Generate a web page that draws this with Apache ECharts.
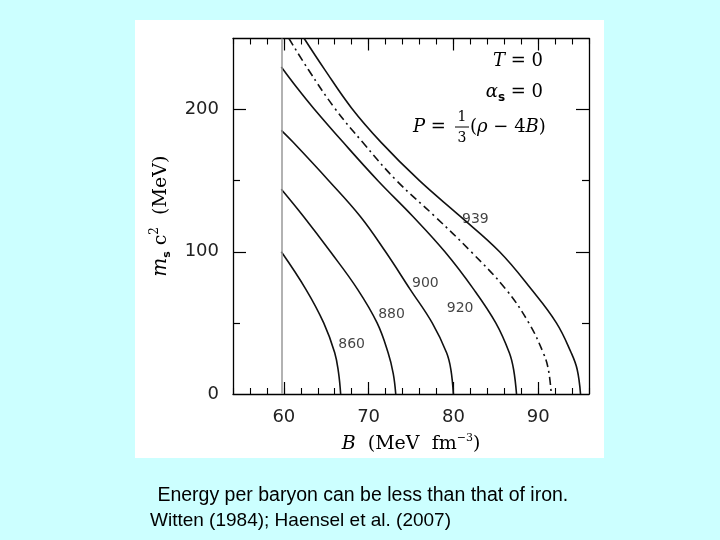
<!DOCTYPE html>
<html><head><meta charset="utf-8">
<script src="https://cdn.jsdelivr.net/npm/echarts@6/dist/echarts.min.js"></script>
<style>
html,body{margin:0;padding:0;background:#ccffff;}
#panel{position:absolute;left:135px;top:20px;width:469px;height:438px;background:#fff;}
#chart{position:absolute;left:0;top:0;width:720px;height:540px;}
</style></head><body>
<div id="panel"></div><div id="chart"></div>
<script>
// ---- data ----
const xRange = [54, 96];
const yRange = [0, 250];
const xTickLabels = [60, 70, 80, 90];
const yTickLabels = [0, 100, 200];
const yMajorTicks = [100, 200];
const yMinorTicks = [50, 150];
const boundaryB = 59.7;

const B_860 = [59.7, 62.6, 64.7, 66.0, 66.45, 66.7];
const ms_860 = [100, 73.6, 50, 29, 15, 0];
const B_880 = [59.7, 62.3, 65.5, 68.7, 71.0, 72.3, 72.9, 73.2];
const ms_880 = [144, 125, 100, 73.6, 50, 29, 14.5, 0];
const B_900 = [59.7, 61.1, 65.3, 69.0, 72.0, 74.9, 77.5, 79.2, 79.7, 80.0];
const ms_900 = [185.4, 177, 150, 125, 100, 73.6, 50, 29, 17.4, 0];
const B_920 = [59.7, 61.6, 63.5, 67.0, 71.1, 75.2, 79.0, 82.4, 85.0, 86.6, 87.1, 87.45];
const ms_920 = [230, 215, 201, 177, 150, 125, 100, 73.6, 50, 29, 17.4, 0];
const B_930 = [60.6, 62.9, 66.0, 69.3, 73.3, 77.8, 82.1, 86.2, 88.9, 90.6, 91.2, 91.55];
const ms_930 = [250, 228, 201, 177, 150, 125, 100, 73.6, 50, 29, 17.4, 0];
const B_939 = [62.4, 64.8, 68.0, 71.5, 76.0, 80.75, 85.45, 89.2, 92.15, 93.9, 94.6, 95.0];
const ms_939 = [250, 228.3, 201, 176.8, 150, 125.2, 100, 73.6, 50, 29, 17.4, 0];

const curveNames = ['860', '880', '900', '920', '939'];
const curveLabelB = [68.0, 72.7, 76.7, 80.8, 82.6];
const curveLabelMs = [34.7, 56.3, 78.1, 60.3, 122.9];

// ---- build ----
const zip = (a, b) => a.map((v, i) => [v, b[i]]);
const curves = [
  {name: '860', d: zip(B_860, ms_860), dash: false},
  {name: '880', d: zip(B_880, ms_880), dash: false},
  {name: '900', d: zip(B_900, ms_900), dash: false},
  {name: '920', d: zip(B_920, ms_920), dash: false},
  {name: '930', d: zip(B_930, ms_930), dash: true},
  {name: '939', d: zip(B_939, ms_939), dash: false}
];

const tickFont = {fontFamily: 'DejaVu Sans', fontSize: 18, color: '#222'};
const serif = 'DejaVu Serif';

function xAx(pos, major, withLabels) {
  const a = {
    type: 'value', min: xRange[0], max: xRange[1], position: pos,
    splitLine: {show: false},
    axisLine: {show: !major, onZero: false, lineStyle: {color: '#000', width: 1.3}},
    axisLabel: {show: false}
  };
  if (major) {
    a.axisTick = {show: true, inside: true, length: 12, customValues: xTickLabels, lineStyle: {color: '#000', width: 1.2}};
  } else {
    a.interval = 2;
    a.axisTick = {show: true, inside: true, length: 6, lineStyle: {color: '#000', width: 1.1}};
  }
  if (withLabels) {
    a.axisLabel = Object.assign({show: true, customValues: xTickLabels, margin: 14}, tickFont);
    a.name = '{i|B}  (MeV  fm{sp|−3})';
    a.nameLocation = 'middle';
    a.nameGap = 39;
    a.nameTextStyle = {fontFamily: serif, fontSize: 19, color: '#000',
      rich: {i: {fontFamily: serif, fontStyle: 'italic', fontSize: 19},
             sp: {fontFamily: serif, fontSize: 11, verticalAlign: 'top', lineHeight: 22}}};
  }
  return a;
}
function yAx(pos, major, withLabels) {
  const a = {
    type: 'value', min: yRange[0], max: yRange[1], position: pos,
    splitLine: {show: false},
    axisLine: {show: !major, onZero: false, lineStyle: {color: '#000', width: 1.3}},
    axisLabel: {show: false}
  };
  if (major) {
    a.axisTick = {show: true, inside: true, length: 13, customValues: yMajorTicks, lineStyle: {color: '#000', width: 1.2}};
  } else {
    a.axisTick = {show: true, inside: true, length: 7, customValues: yMinorTicks, lineStyle: {color: '#000', width: 1.2}};
  }
  if (withLabels) {
    a.axisLabel = Object.assign({show: true, customValues: yTickLabels, margin: 14}, tickFont);
    a.name = '{i|m}{sb|s} c{sp|2}  (MeV)';
    a.nameLocation = 'middle';
    a.nameRotate = 90;
    a.nameGap = 60;
    a.nameTextStyle = {fontFamily: serif, fontSize: 19, color: '#000',
      rich: {i: {fontFamily: serif, fontStyle: 'italic', fontSize: 20},
             sb: {fontFamily: 'DejaVu Sans', fontWeight: 'bold', fontSize: 11, verticalAlign: 'bottom', lineHeight: 24},
             sp: {fontFamily: serif, fontSize: 12, verticalAlign: 'top', lineHeight: 24}}};
  }
  return a;
}

const series = curves.map((c, i) => ({
  type: 'line', name: c.name, data: c.d, showSymbol: false, symbol: 'none',
  smooth: 0.4, silent: true,
  lineStyle: {color: '#111', width: 1.6, type: c.dash ? [8, 4, 2, 4] : 'solid'},
  z: 3
}));
series[0].markLine = {
  silent: true, symbol: 'none', label: {show: false},
  lineStyle: {color: '#999', width: 1.5, type: 'solid'},
  data: [{xAxis: boundaryB}]
};
series.push({
  type: 'scatter', symbolSize: 1, itemStyle: {color: 'rgba(0,0,0,0)'}, silent: true,
  data: curveNames.map((n, i) => ({name: n, value: [curveLabelB[i], curveLabelMs[i]]})),
  label: {show: true, position: 'inside', formatter: p => p.name,
          fontFamily: 'DejaVu Sans', fontSize: 14, color: '#111'},
  z: 4
});

const fracX = 462;
const option = {
  backgroundColor: 'transparent',
  animation: false,
  grid: {left: 233, top: 38.5, right: 131, bottom: 146, containLabel: false},
  xAxis: [xAx('bottom', false, false), xAx('bottom', true, true), xAx('top', false, false), xAx('top', true, false)],
  yAxis: [yAx('left', false, false), yAx('left', true, true), yAx('right', false, false), yAx('right', true, false)],
  series: series,
  graphic: [
    {type: 'text', x: 543, y: 61, style: {text: '{i|T} = 0', align: 'right', verticalAlign: 'middle',
      font: '18px "DejaVu Serif"', fill: '#000',
      rich: {i: {fontFamily: serif, fontStyle: 'italic', fontSize: 18}}}},
    {type: 'text', x: 543, y: 92, style: {text: '{i|α}{sb|s} = 0', align: 'right', verticalAlign: 'middle',
      font: '18px "DejaVu Serif"', fill: '#000',
      rich: {i: {fontFamily: serif, fontStyle: 'italic', fontSize: 18, lineHeight: 24},
             sb: {fontFamily: 'DejaVu Sans', fontWeight: 'bold', fontSize: 12, verticalAlign: 'bottom', lineHeight: 24}}}},
    {type: 'text', x: 413, y: 127, style: {text: '{i|P} =', align: 'left', verticalAlign: 'middle',
      font: '18px "DejaVu Serif"', fill: '#000',
      rich: {i: {fontFamily: serif, fontStyle: 'italic', fontSize: 18}}}},
    {type: 'text', x: fracX, y: 117, style: {text: '1', align: 'center', verticalAlign: 'middle',
      font: '14px "DejaVu Serif"', fill: '#000'}},
    {type: 'line', shape: {x1: fracX - 7, y1: 127, x2: fracX + 7, y2: 127}, style: {stroke: '#000', lineWidth: 1}},
    {type: 'text', x: fracX, y: 138, style: {text: '3', align: 'center', verticalAlign: 'middle',
      font: '14px "DejaVu Serif"', fill: '#000'}},
    {type: 'text', x: 470, y: 127, style: {text: '({i|ρ} − 4{i|B})', align: 'left', verticalAlign: 'middle',
      font: '18px "DejaVu Serif"', fill: '#000',
      rich: {i: {fontFamily: serif, fontStyle: 'italic', fontSize: 18}}}},
    {type: 'text', x: 152, y: 496, style: {text: ' Energy per baryon can be less than that of iron.', align: 'left', verticalAlign: 'middle',
      font: '19.5px "Liberation Sans"', fill: '#000'}},
    {type: 'text', x: 150, y: 521, style: {text: 'Witten (1984); Haensel et al. (2007)', align: 'left', verticalAlign: 'middle',
      font: '19px "Liberation Sans"', fill: '#000'}}
  ]
};
const chart = echarts.init(document.getElementById('chart'), null, {renderer: 'canvas'});
chart.setOption(option);
</script>
</body></html>
